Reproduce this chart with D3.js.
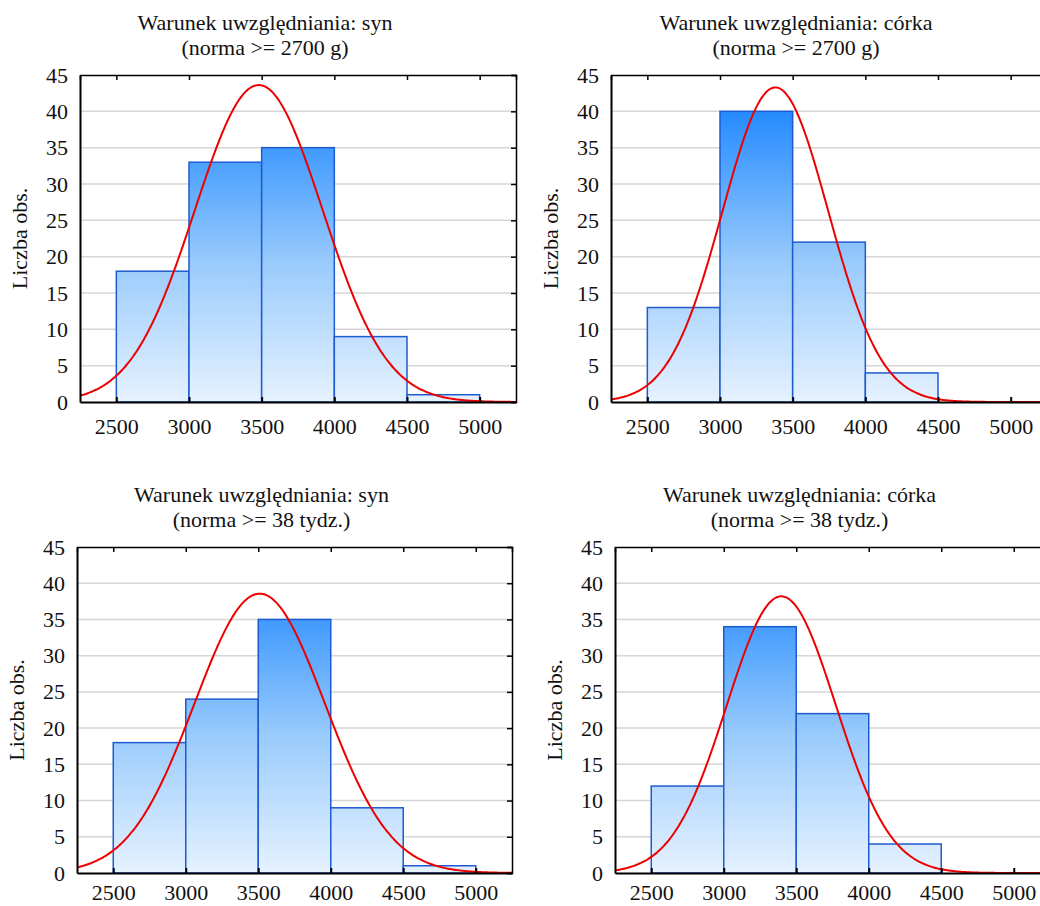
<!DOCTYPE html>
<html>
<head>
<meta charset="utf-8">
<script src="https://cdn.jsdelivr.net/npm/d3@7"></script>
<style>
  body { margin: 0; background: #fff; }
  svg { display: block; }
  text { font-family: "Liberation Serif", "Times New Roman", serif; fill: #111; }
</style>
</head>
<body>
<div id="chart"></div>
<script>
// bins of birth weight (g), shared by all four histograms
const binEdges = [2500, 3000, 3500, 4000, 4500, 5000];
const xTicks = [2500, 3000, 3500, 4000, 4500, 5000];
const yTicks = [0, 5, 10, 15, 20, 25, 30, 35, 40, 45];

// counts per bin
const countsSynWeight = [18, 33, 35, 9, 1];
const countsCorkaWeight = [13, 40, 22, 4, 0];
const countsSynWeek = [18, 24, 35, 9, 1];
const countsCorkaWeek = [12, 34, 22, 4, 0];

// fitted normal curve parameters (mean, sd)
const fitMeans = [3480, 3381, 3510, 3397];
const fitSds = [439, 364, 450, 376];

const titleLine1 = ["Warunek uwzględniania: syn", "Warunek uwzględniania: córka",
                    "Warunek uwzględniania: syn", "Warunek uwzględniania: córka"];
const titleLine2 = ["(norma >= 2700 g)", "(norma >= 2700 g)",
                    "(norma >= 38 tydz.)", "(norma >= 38 tydz.)"];
const yLabel = "Liczba obs.";

const allCounts = [countsSynWeight, countsCorkaWeight, countsSynWeek, countsCorkaWeek];

// frame of each panel (labelPad: gap under x axis)
const frames = [
  { left: 80, top: 75, w: 436, h: 327, labelPad: 16 },
  { left: 611, top: 75, w: 436, h: 327, labelPad: 16 },
  { left: 77, top: 547, w: 435, h: 326, labelPad: 11 },
  { left: 615, top: 547, w: 435, h: 326, labelPad: 11 }
];

const width = 1040, height = 906;
const svg = d3.select("#chart").append("svg")
  .attr("width", width)
  .attr("height", height);

const defs = svg.append("defs");

frames.forEach((f, i) => {
  const counts = allCounts[i];
  const x = d3.scaleLinear().domain([2250, 5250]).range([0, f.w]);
  const y = d3.scaleLinear().domain([0, 45]).range([f.h, 0]);
  const n = d3.sum(counts);
  const binW = binEdges[1] - binEdges[0];

  const g = svg.append("g").attr("transform", `translate(${f.left},${f.top})`);

  // gradient tied to the value scale, not to each bar
  const grad = defs.append("linearGradient")
    .attr("id", "barGrad" + i)
    .attr("gradientUnits", "userSpaceOnUse")
    .attr("x1", 0).attr("x2", 0)
    .attr("y1", y(0)).attr("y2", y(42));
  grad.append("stop").attr("offset", 0).attr("stop-color", "#e6f2ff");
  grad.append("stop").attr("offset", 0.45).attr("stop-color", "#9acbfc");
  grad.append("stop").attr("offset", 1).attr("stop-color", "#1a85ff");

  defs.append("clipPath").attr("id", "clip" + i)
    .append("rect").attr("width", f.w).attr("height", f.h);

  // grid lines
  g.append("g")
    .selectAll("line")
    .data(yTicks.filter(t => t > 0 && t < 45))
    .join("line")
    .attr("x1", 0).attr("x2", f.w)
    .attr("y1", d => y(d)).attr("y2", d => y(d))
    .attr("stroke", "#d6d6d6")
    .attr("stroke-width", 1.5);

  // bars
  const bins = counts.map((c, k) => ({ x0: binEdges[k], x1: binEdges[k + 1], c }))
    .filter(b => b.c > 0);
  g.append("g")
    .selectAll("rect")
    .data(bins)
    .join("rect")
    .attr("x", d => x(d.x0))
    .attr("width", d => x(d.x1) - x(d.x0))
    .attr("y", d => y(d.c))
    .attr("height", d => y(0) - y(d.c))
    .attr("fill", `url(#barGrad${i})`)
    .attr("stroke", "#1f5bd0")
    .attr("stroke-width", 1.5);

  // fitted normal curve
  const mu = fitMeans[i], sd = fitSds[i];
  const xs = d3.range(2250, 5251, 10);
  const line = d3.line()
    .x(v => x(v))
    .y(v => y(n * binW * Math.exp(-0.5 * ((v - mu) / sd) ** 2) / (sd * Math.sqrt(2 * Math.PI))))
    .curve(d3.curveBasis);
  g.append("path")
    .datum(xs)
    .attr("clip-path", `url(#clip${i})`)
    .attr("d", line)
    .attr("fill", "none")
    .attr("stroke", "#ee0000")
    .attr("stroke-width", 2);

  // frame with inward ticks
  g.append("g")
    .call(d3.axisTop(x).tickValues(xTicks).tickSize(-5).tickFormat(""))
    .call(s => s.selectAll("path, line").attr("stroke", "#000").attr("stroke-width", 1.5));
  g.append("g")
    .attr("transform", `translate(${f.w},0)`)
    .call(d3.axisRight(y).tickValues(yTicks).tickSize(-5).tickFormat(""))
    .call(s => s.selectAll("path, line").attr("stroke", "#000").attr("stroke-width", 1.5));

  const xAxis = g.append("g")
    .attr("transform", `translate(0,${f.h})`)
    .call(d3.axisBottom(x).tickValues(xTicks).tickSizeInner(-5).tickSizeOuter(0).tickPadding(f.labelPad).tickFormat(d3.format("d")));
  xAxis.selectAll("path, line").attr("stroke", "#000").attr("stroke-width", 2);
  xAxis.selectAll("text").style("font-size", "22px").style("font-family", "Liberation Serif").attr("fill", "#111");

  const yAxis = g.append("g")
    .call(d3.axisLeft(y).tickValues(yTicks).tickSize(0).tickPadding(12));
  yAxis.select("path").attr("stroke", "#000").attr("stroke-width", 2);
  yAxis.selectAll("text").style("font-size", "22px").style("font-family", "Liberation Serif").attr("fill", "#111");

  // y label
  g.append("text")
    .attr("transform", `translate(-53,${f.h / 2}) rotate(-90)`)
    .attr("text-anchor", "middle")
    .style("font-size", "22px")
    .text(yLabel);

  // title
  const cx = f.w / 2 - 33;
  g.append("text")
    .attr("x", cx).attr("y", -45.5)
    .attr("text-anchor", "middle")
    .style("font-size", "22px")
    .text(titleLine1[i]);
  g.append("text")
    .attr("x", cx).attr("y", -20)
    .attr("text-anchor", "middle")
    .style("font-size", "22px")
    .text(titleLine2[i]);
});
</script>
</body>
</html>
